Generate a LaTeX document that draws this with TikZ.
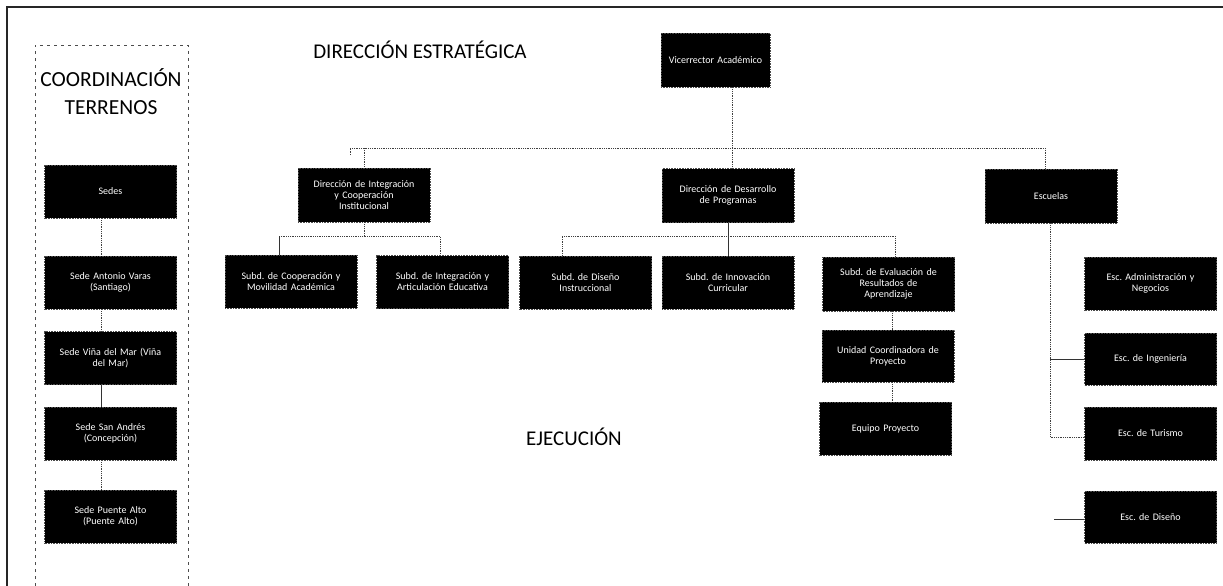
\documentclass[tikz,border=0pt]{standalone}
\usepackage{fontspec}
\setmainfont{Carlito}
\frenchspacing
\begin{document}
\begin{tikzpicture}[x=1pt,y=-1pt,
  box/.style={fill=black,draw=gray!60!black,densely dotted,line width=0.6pt,text=white,
    font=\fontsize{10}{11}\selectfont,align=center,text width=122pt,
    minimum width=132pt,minimum height=53pt,inner sep=2pt,anchor=center},
  lnk/.style={densely dotted,gray!50!black,line width=0.8pt},
  sol/.style={gray!40!black,line width=0.8pt},
  ttl/.style={font=\fontsize{21}{24}\selectfont,text=black,inner sep=0pt}]
\useasboundingbox (0,0) rectangle (1223,586);
\fill[white] (0,0) rectangle (1223,586);
% outer frame
\coordinate (fa) at (7,586); \coordinate (fb) at (7,7); \coordinate (fc) at (1223,7);
\draw[gray!30!black,line width=1.2pt] (fa) -- (fb) -- (fc);
% left panel
\coordinate (pa) at (35,586); \coordinate (pb) at (35,45); \coordinate (pc) at (188,45); \coordinate (pd) at (188,586);
\draw[dashed,gray!60!black,line width=0.6pt,dash pattern=on 3pt off 4pt] (pa) -- (pb) -- (pc) -- (pd);
% titles
\node[ttl,font=\fontsize{21.5}{24}\selectfont] (t1) at (111,78) {COORDINACIÓN};
\node[ttl,font=\fontsize{21.5}{24}\selectfont] (t2) at (111,108) {TERRENOS};
\node[ttl] (t3) at (420,50) {DIRECCIÓN ESTRATÉGICA};
\node[ttl] (t4) at (574,437) {EJECUCIÓN};
% left column
\node[box] (s1) at (110.5,191.5) {Sedes};
\node[box] (s2) at (110.5,282.5) {Sede Antonio Varas\\(Santiago)};
\node[box] (s3) at (110.5,358) {Sede Viña del Mar (Viña\\del Mar)};
\node[box] (s4) at (110.5,433.5) {Sede San Andrés\\(Concepción)};
\node[box] (s5) at (110.5,516.5) {Sede Puente Alto\\(Puente Alto)};
\coordinate (lx) at (101,0);
\draw[lnk] (s1.south -| lx) -- (s2.north -| lx);
\draw[lnk] (s2.south -| lx) -- (s3.north -| lx);
\draw[sol] (s3.south -| lx) -- (s4.north -| lx);
\draw[lnk] (s4.south -| lx) -- (s5.north -| lx);
% top
\node[box,minimum width=109pt,text width=100pt,minimum height=54pt] (vr) at (715.5,60) {Vicerrector Académico};
\node[box,minimum height=54pt] (dic) at (364,195) {Dirección de Integración\\y Cooperación\\Institucional};
\node[box,minimum height=54pt] (ddp) at (728,195.5) {Dirección de Desarrollo\\de Programas};
\node[box,minimum height=54pt] (esc) at (1051,196) {Escuelas};
\coordinate (h0) at (350,155);
\coordinate (h1) at (350,148);
\coordinate (h2) at (1045,148);
\coordinate (hv) at (732,148);
\draw[lnk] (vr.south -| hv) -- (hv);
\draw[lnk] (h0) -- (h1) -- (h2) -- (h2 |- esc.north);
\draw[lnk] (h1 -| dic.north) -- (dic.north);
\draw[lnk] (hv) -- (hv |- ddp.north);
% subdirections
\node[box] (sc) at (291,281.5) {Subd. de Cooperación y\\Movilidad Académica};
\node[box] (si) at (442.5,282) {Subd. de Integración y\\Articulación Educativa};
\node[box] (sd) at (585.5,282.5) {Subd. de Diseño\\Instruccional};
\node[box] (sin) at (728,282.5) {Subd. de Innovación\\Curricular};
\node[box,minimum height=54pt] (se) at (888.5,284) {Subd. de Evaluación de\\Resultados de\\Aprendizaje};
\node[box,minimum height=52pt] (uc) at (888,356) {Unidad Coordinadora de\\Proyecto};
\node[box] (ep) at (885.5,428.5) {Equipo Proyecto};
\coordinate (ia) at (279,236); \coordinate (ib) at (440,236);
\draw[lnk] (dic.south) -- (dic.south |- ia);
\draw[lnk] (ia) -- (ib) -- (ib |- si.north);
\draw[sol] (ia) -- (ia |- sc.north);
\draw[sol] (ddp.south) -- (sin.north);
\coordinate (da) at (562,236); \coordinate (db) at (895,236);
\draw[lnk] (da |- sd.north) -- (da) -- (db) -- (db |- se.north);
\coordinate (ux) at (892,0);
\draw[lnk] (se.south -| ux) -- (uc.north -| ux);
\draw[lnk] (uc.south -| ux) -- (ep.north -| ux);
% schools
\node[box] (ea) at (1150.5,283.5) {Esc. Administración y\\Negocios};
\node[box,minimum height=52pt] (ei) at (1150.5,359) {Esc. de Ingeniería};
\node[box] (et) at (1150.5,433.5) {Esc. de Turismo};
\node[box,minimum height=52pt] (ed) at (1150.5,517) {Esc. de Diseño};
\coordinate (ev) at (1050,437);
\draw[lnk] (esc.south -| ev) -- (ev) -- (ev -| et.west);
\draw[sol] (ei.west -| ev) -- (ei.west);
\coordinate (dz) at (1054,519);
\draw[sol] (dz) -- (dz -| ed.west);
\end{tikzpicture}
\end{document}
